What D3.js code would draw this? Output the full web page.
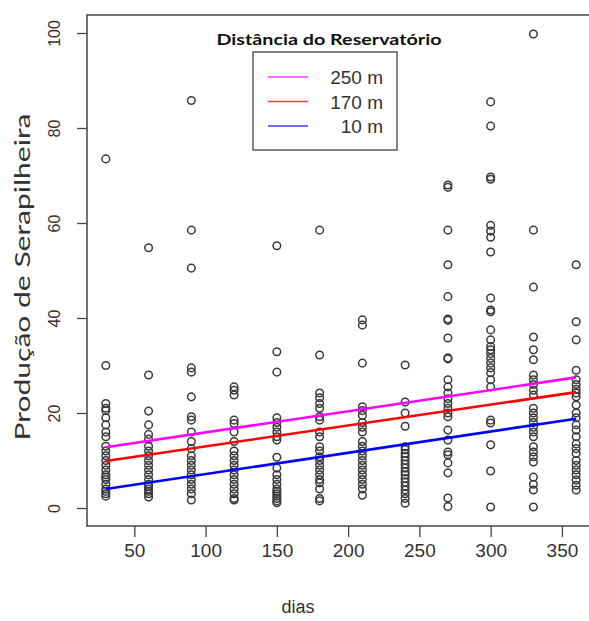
<!DOCTYPE html>
<html>
<head>
<meta charset="utf-8">
<script src="https://cdn.jsdelivr.net/npm/d3@7"></script>
<style>
  body { margin: 0; background: #fff; }
  text { fill: #333; font-family: 'Liberation Sans', Arial, sans-serif; }
  .y-title { font-family: Lato, 'Open Sans', sans-serif; }
  .leg-title { font-family: Lato, 'Noto Sans', sans-serif; font-weight: bold; fill: #111; }
</style>
</head>
<body>
<svg width="589" height="621"></svg>
<script>
// days of sampling
const dias = [30, 60, 90, 120, 150, 180, 210, 240, 270, 300, 330, 360];

// litter values read per column (same order as dias)
const producao = [
  [73.5, 30, 22, 21, 20.5, 19, 17.5, 16, 15, 13, 12, 11, 10, 9, 8, 7, 6.5, 6, 5, 4, 3.5, 3, 2.5],
  [54.8, 28, 20.4, 17.5, 15.5, 14.5, 13, 12, 11, 10, 9, 8, 7, 6, 5, 4.5, 4, 3.5, 3, 2.3],
  [85.8, 58.5, 50.5, 29.5, 28.6, 23.4, 19.2, 18.5, 16, 14, 12.5, 11, 10, 9, 8, 7, 6, 5, 4, 3, 1.7],
  [25.5, 24.8, 23.8, 18.5, 17.8, 16, 14, 12, 11, 10, 9, 8, 7, 6, 5, 4, 3, 2, 1.7],
  [55.2, 32.9, 28.6, 19, 18, 17, 16, 15, 14.3, 10.7, 8.4, 7, 6, 5, 4, 3.5, 3, 2.5, 2, 1.5, 1.1],
  [58.5, 32.2, 24.2, 23.2, 22, 21, 19.2, 18.5, 16, 15, 12.9, 12, 10.8, 10, 9, 8, 7, 6, 5.3, 4, 2, 1.5],
  [39.6, 38.5, 30.5, 21.3, 20.5, 19.5, 18, 17, 16, 14, 13, 12, 11, 10, 9, 8, 7, 6, 5, 4, 2.7],
  [30.1, 22.3, 20, 17.2, 12.9, 12.3, 11.5, 10.8, 10, 9.2, 8.4, 7.6, 7, 6.2, 5.4, 4.6, 3.8, 3, 2, 1],
  [68, 67.5, 58.5, 51.2, 44.5, 39.8, 39.5, 35.8, 31.6, 31.4, 27, 25.5, 24.2, 23, 22, 21, 20, 19.2, 16.4, 14.3, 11.8, 11.2, 9.5, 7.4, 2.1, 0.3],
  [85.5, 80.4, 69.7, 69.2, 59.5, 58.3, 57, 53.9, 44.2, 41.7, 41.3, 37.5, 35.4, 34, 33.3, 32.5, 31.5, 30.5, 29.5, 28.5, 27, 25.5, 18.5, 17.9, 13.3, 7.8, 0.2],
  [99.8, 58.5, 46.5, 36, 33.3, 31.2, 28, 27, 26, 24.8, 23.8, 21, 20, 19, 18, 17, 16, 15, 12.9, 11.8, 10.8, 9.7, 6.5, 5, 3.8, 0.2],
  [51.2, 39.2, 35.4, 29, 27, 26, 25, 24.2, 23.4, 21.7, 20, 19, 17.5, 16.4, 15, 13.5, 12.5, 11.5, 10, 9, 8, 7, 5.9, 4.8, 3.8]
];

// fitted lines: value at first and last day, per distance
const distancias = ['250 m', '170 m', '10 m'];
const linhaInicio = [12.8, 9.9, 4.0];
const linhaFim = [27.5, 24.4, 18.8];
const cores = ['#ff00ff', '#ff0000', '#0000ff'];

const xTicks = [50, 100, 150, 200, 250, 300, 350];
const yTicks = [0, 20, 40, 60, 80, 100];

const svg = d3.select('svg');

const xScale = d3.scaleLinear().domain([16.8, 373.2]).range([87, 595]);
const yScale = d3.scaleLinear().domain([-4, 104]).range([527, 14]);

const pontos = [];
dias.forEach((d, i) => producao[i].forEach(v => pontos.push({ dia: d, valor: v })));

// points
svg.append('g')
  .selectAll('circle')
  .data(pontos)
  .join('circle')
    .attr('cx', d => xScale(d.dia))
    .attr('cy', d => yScale(d.valor))
    .attr('r', 3.8)
    .attr('fill', 'none')
    .attr('stroke', '#3a3a3a')
    .attr('stroke-width', 1.5);

// regression lines
const linhas = distancias.map((nome, i) => ({
  nome, cor: cores[i],
  pts: [[dias[0], linhaInicio[i]], [dias[dias.length - 1], linhaFim[i]]]
}));
const lineGenerator = d3.line()
  .x(d => xScale(d[0]))
  .y(d => yScale(d[1]));

svg.append('g')
  .selectAll('path')
  .data(linhas)
  .join('path')
    .attr('d', d => lineGenerator(d.pts))
    .attr('fill', 'none')
    .attr('stroke', d => d.cor)
    .attr('stroke-width', 2.6);

// axes
const xAxis = d3.axisBottom(xScale)
  .tickValues(xTicks)
  .tickSize(11)
  .tickPadding(7)
  .tickSizeOuter(0);
const xAxisG = svg.append('g')
  .attr('transform', 'translate(0,526)')
  .call(xAxis);
xAxisG.select('.domain').remove();
xAxisG.selectAll('line').attr('stroke', '#444').attr('stroke-width', 1.3);
xAxisG.selectAll('text').attr('font-size', 19).attr('font-family', null).attr('fill', '#333');

const yAxis = d3.axisLeft(yScale)
  .tickValues(yTicks)
  .tickSize(10)
  .tickPadding(0);
const yAxisG = svg.append('g')
  .attr('transform', 'translate(87,0)')
  .call(yAxis);
yAxisG.select('.domain').remove();
yAxisG.selectAll('line').attr('stroke', '#444').attr('stroke-width', 1.3);
yAxisG.selectAll('.tick text')
  .attr('font-size', 16)
  .attr('font-family', null)
  .attr('fill', '#333')
  .attr('x', null).attr('dy', null)
  .attr('text-anchor', 'middle')
  .attr('transform', 'translate(-27,0) rotate(-90)');

// frame
svg.append('rect')
  .attr('x', 87).attr('y', 15)
  .attr('width', 508).attr('height', 511)
  .attr('fill', 'none')
  .attr('stroke', '#444')
  .attr('stroke-width', 1.5);

// axis titles
svg.append('text')
  .attr('x', 298).attr('y', 613)
  .attr('text-anchor', 'middle')
  .attr('font-size', 18)
  .text('dias');

svg.append('text')
  .attr('class', 'y-title')
  .attr('transform', 'translate(30,277) rotate(-90)')
  .attr('text-anchor', 'middle')
  .attr('font-size', 22)
  .attr('textLength', 327)
  .attr('lengthAdjust', 'spacingAndGlyphs')
  .text('Produção de Serapilheira');

// legend
const leg = svg.append('g');
leg.append('text')
  .attr('class', 'leg-title')
  .attr('x', 329).attr('y', 45)
  .attr('text-anchor', 'middle')
  .attr('font-size', 15)
  .attr('textLength', 225)
  .attr('lengthAdjust', 'spacingAndGlyphs')
  .text('Distância do Reservatório');
leg.append('rect')
  .attr('x', 253).attr('y', 52)
  .attr('width', 144).attr('height', 98)
  .attr('fill', '#fff')
  .attr('stroke', '#444')
  .attr('stroke-width', 1.3);

const legY = d3.scalePoint().domain(distancias).range([77, 126]);
const item = leg.selectAll('.item')
  .data(linhas)
  .join('g')
    .attr('class', 'item')
    .attr('transform', d => `translate(0,${legY(d.nome)})`);
item.append('line')
  .attr('x1', 268).attr('x2', 308)
  .attr('stroke', d => d.cor)
  .attr('stroke-width', 1.6)
  .attr('opacity', 0.75);
item.append('text')
  .attr('x', 383).attr('y', 7)
  .attr('text-anchor', 'end')
  .attr('font-size', 19)
  .text(d => d.nome);
</script>
</body>
</html>
